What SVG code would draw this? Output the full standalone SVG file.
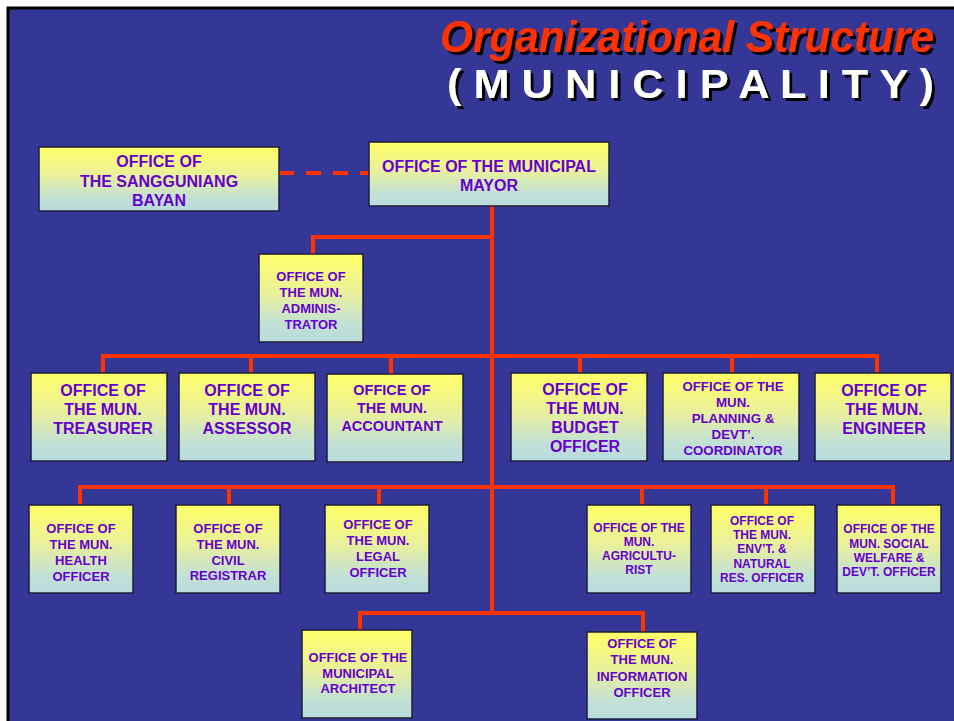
<svg xmlns="http://www.w3.org/2000/svg" width="954" height="721" viewBox="0 0 954 721">
<defs>
<linearGradient id="boxfill" x1="0" y1="0" x2="0" y2="1">
<stop offset="0" stop-color="#FFFF66"/>
<stop offset="0.45" stop-color="#E8F09C"/>
<stop offset="0.8" stop-color="#C2E0D6"/>
<stop offset="1" stop-color="#B8DCDC"/>
</linearGradient>
<filter id="shadow" x="-5%" y="-20%" width="110%" height="150%">
<feDropShadow dx="3" dy="3" stdDeviation="0" flood-color="#000000" flood-opacity="1"/>
</filter>
<style>
.box{fill:url(#boxfill);stroke:#1E1E3C;stroke-width:1.5}
.lbl{font-family:"Liberation Sans",Arial,sans-serif;font-weight:bold;fill:#6600CC;text-anchor:middle}
.conn{fill:none;stroke:#FF3300;stroke-width:4}
.ttl{font-family:'Liberation Sans Narrow','Liberation Sans',Arial,sans-serif;font-weight:bold;filter:url(#shadow)}
.f16{font-size:16px}
.f145{font-size:14.5px}
.f133{font-size:13.3px}
.f13{font-size:13px}
.f12{font-size:12px}
</style>
</defs>
<rect x="0" y="0" width="954" height="721" fill="#FFFFFF"/>
<rect x="8" y="8" width="950" height="720" fill="#353797" stroke="#000000" stroke-width="3"/>
<g id="title">
<text class="ttl" x="440" y="52" font-style="italic" font-size="44" fill="#FF3300" textLength="494" lengthAdjust="spacingAndGlyphs">Organizational Structure</text>
<text class="ttl" x="447" y="98" font-size="41" fill="#FFFFFF" textLength="487" lengthAdjust="spacingAndGlyphs">( M U N I C I P A L I T Y )</text>
</g>
<g id="connectors">
<path class="conn" d="M279 173 H369" stroke-dasharray="15 12"/>
<path class="conn" d="M492 206 V613"/>
<path class="conn" d="M492 237 H313 V254"/>
<path class="conn" d="M103 373 V356 H877 V373 M251 356 V373 M391 356 V374 M580 356 V373 M732 356 V373"/>
<path class="conn" d="M80 505 V487 H893 V505 M229 487 V505 M379 487 V505 M642 487 V505 M766 487 V505"/>
<path class="conn" d="M360 630 V613 H643 V632"/>
</g>
<g id="sangguniang">
<rect class="box" x="39" y="147" width="240" height="64"/>
<text class="lbl f16" x="159" y="167">OFFICE OF</text>
<text class="lbl f16" x="159" y="187">THE SANGGUNIANG</text>
<text class="lbl f16" x="159" y="206">BAYAN</text>
</g>
<g id="mayor">
<rect class="box" x="369" y="142" width="240" height="64"/>
<text class="lbl f16" x="489" y="172">OFFICE OF THE MUNICIPAL</text>
<text class="lbl f16" x="489" y="191">MAYOR</text>
</g>
<g id="administrator">
<rect class="box" x="259" y="254" width="104" height="88"/>
<text class="lbl f13" x="311" y="281">OFFICE OF</text>
<text class="lbl f13" x="311" y="297">THE MUN.</text>
<text class="lbl f13" x="311" y="313">ADMINIS-</text>
<text class="lbl f13" x="311" y="329">TRATOR</text>
</g>
<g id="treasurer">
<rect class="box" x="31" y="373" width="136" height="88"/>
<text class="lbl f16" x="103" y="396">OFFICE OF</text>
<text class="lbl f16" x="103" y="415">THE MUN.</text>
<text class="lbl f16" x="103" y="434">TREASURER</text>
</g>
<g id="assessor">
<rect class="box" x="179" y="373" width="136" height="88"/>
<text class="lbl f16" x="247" y="396">OFFICE OF</text>
<text class="lbl f16" x="247" y="415">THE MUN.</text>
<text class="lbl f16" x="247" y="434">ASSESSOR</text>
</g>
<g id="accountant">
<rect class="box" x="327" y="374" width="136" height="88"/>
<text class="lbl f145" x="392" y="395">OFFICE OF</text>
<text class="lbl f145" x="392" y="413">THE MUN.</text>
<text class="lbl f145" x="392" y="431">ACCOUNTANT</text>
</g>
<g id="budget">
<rect class="box" x="511" y="373" width="136" height="88"/>
<text class="lbl f16" x="585" y="395">OFFICE OF</text>
<text class="lbl f16" x="585" y="414">THE MUN.</text>
<text class="lbl f16" x="585" y="433">BUDGET</text>
<text class="lbl f16" x="585" y="452">OFFICER</text>
</g>
<g id="planning">
<rect class="box" x="663" y="373" width="136" height="88"/>
<text class="lbl f133" x="733" y="391">OFFICE OF THE</text>
<text class="lbl f133" x="733" y="407">MUN.</text>
<text class="lbl f133" x="733" y="423">PLANNING &amp;</text>
<text class="lbl f133" x="733" y="439">DEVT’.</text>
<text class="lbl f133" x="733" y="455">COORDINATOR</text>
</g>
<g id="engineer">
<rect class="box" x="815" y="373" width="136" height="88"/>
<text class="lbl f16" x="884" y="396">OFFICE OF</text>
<text class="lbl f16" x="884" y="415">THE MUN.</text>
<text class="lbl f16" x="884" y="434">ENGINEER</text>
</g>
<g id="health">
<rect class="box" x="29" y="505" width="104" height="88"/>
<text class="lbl f13" x="81" y="533">OFFICE OF</text>
<text class="lbl f13" x="81" y="549">THE MUN.</text>
<text class="lbl f13" x="81" y="565">HEALTH</text>
<text class="lbl f13" x="81" y="581">OFFICER</text>
</g>
<g id="civil">
<rect class="box" x="176" y="505" width="104" height="88"/>
<text class="lbl f13" x="228" y="533">OFFICE OF</text>
<text class="lbl f13" x="228" y="549">THE MUN.</text>
<text class="lbl f13" x="228" y="565">CIVIL</text>
<text class="lbl f13" x="228" y="580">REGISTRAR</text>
</g>
<g id="legal">
<rect class="box" x="325" y="505" width="104" height="88"/>
<text class="lbl f13" x="378" y="529">OFFICE OF</text>
<text class="lbl f13" x="378" y="545">THE MUN.</text>
<text class="lbl f13" x="378" y="561">LEGAL</text>
<text class="lbl f13" x="378" y="577">OFFICER</text>
</g>
<g id="agriculturist">
<rect class="box" x="587" y="505" width="104" height="88"/>
<text class="lbl f12" x="639" y="532">OFFICE OF THE</text>
<text class="lbl f12" x="639" y="546">MUN.</text>
<text class="lbl f12" x="639" y="560">AGRICULTU-</text>
<text class="lbl f12" x="639" y="574">RIST</text>
</g>
<g id="environment">
<rect class="box" x="711" y="505" width="104" height="88"/>
<text class="lbl f12" x="762" y="525">OFFICE OF</text>
<text class="lbl f12" x="762" y="539">THE MUN.</text>
<text class="lbl f12" x="762" y="553">ENV’T. &amp;</text>
<text class="lbl f12" x="762" y="568">NATURAL</text>
<text class="lbl f12" x="762" y="582">RES. OFFICER</text>
</g>
<g id="social-welfare">
<rect class="box" x="837" y="505" width="104" height="88"/>
<text class="lbl f12" x="889" y="533">OFFICE OF THE</text>
<text class="lbl f12" x="889" y="548">MUN. SOCIAL</text>
<text class="lbl f12" x="889" y="562">WELFARE &amp;</text>
<text class="lbl f12" x="889" y="576">DEV’T. OFFICER</text>
</g>
<g id="architect">
<rect class="box" x="302" y="630" width="110" height="88"/>
<text class="lbl f13" x="358" y="662">OFFICE OF THE</text>
<text class="lbl f13" x="358" y="678">MUNICIPAL</text>
<text class="lbl f13" x="358" y="693">ARCHITECT</text>
</g>
<g id="information">
<rect class="box" x="587" y="632" width="110" height="87"/>
<text class="lbl f13" x="642" y="648">OFFICE OF</text>
<text class="lbl f13" x="642" y="664">THE MUN.</text>
<text class="lbl f13" x="642" y="681">INFORMATION</text>
<text class="lbl f13" x="642" y="697">OFFICER</text>
</g>
</svg>
